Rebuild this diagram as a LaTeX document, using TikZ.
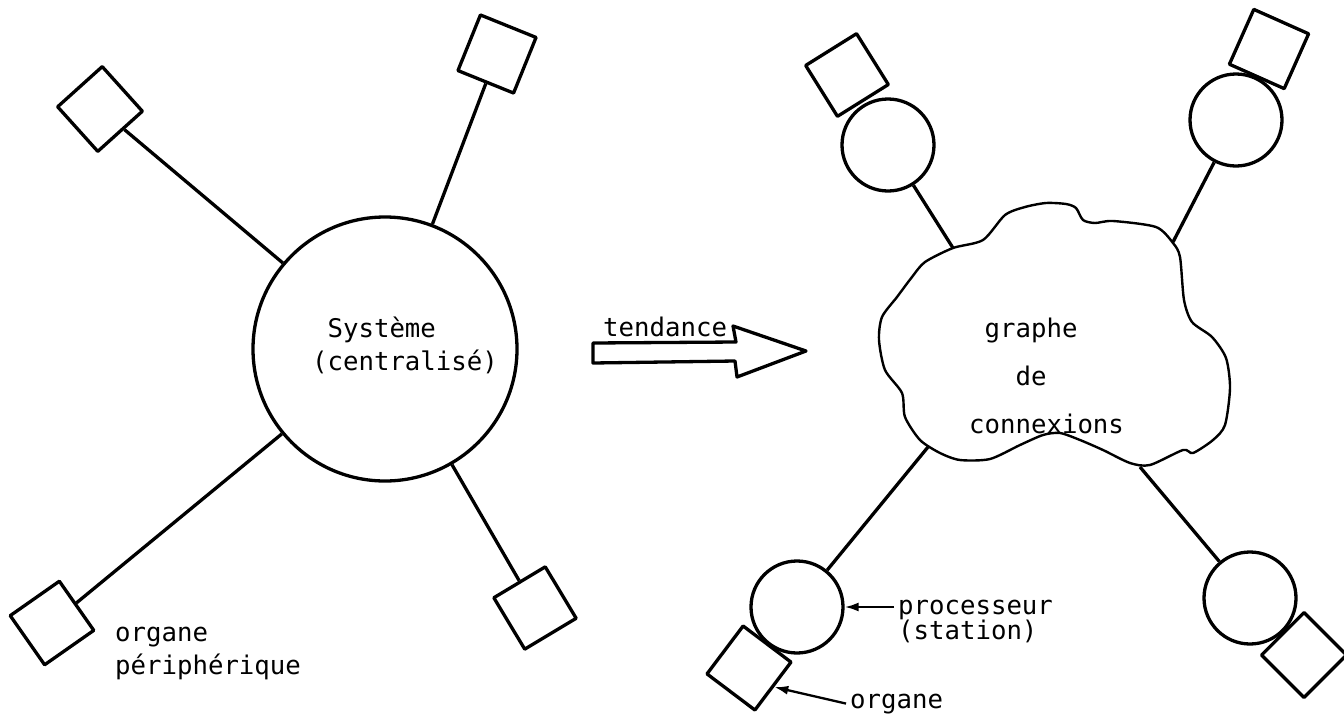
\documentclass[tikz,border=0pt]{standalone}
\usepackage{fontspec}
\newfontfamily\typewr{DejaVu Sans Mono}
\usepackage{tikz}
\usetikzlibrary{arrows.meta,positioning}

\begin{document}
\begin{tikzpicture}[
  x=1pt, y=-1pt,
  txt/.style={font=\typewr\fontsize{25.7}{33}\selectfont, inner sep=0pt, align=left},
  organ/.style={draw, line width=3.3pt, minimum size=60pt, inner sep=0pt, line join=round},
  proc/.style={draw, circle, line width=3.3pt, minimum size=92pt, inner sep=0pt},
  link/.style={line width=3.3pt},
  pointer/.style={-{Latex[length=14pt,width=9pt]}, line width=2.3pt}
]
\useasboundingbox (0,0) rectangle (1344,718);

\node[proc, minimum size=264pt] (sys) at (385,349) {};
\node[txt] (systxt) at ([xshift=20pt,yshift=4pt]sys.center) {\hphantom{(}Système\\(centralisé)};

\node[organ, rotate=42] (oul) at (100,109) {};
\node[organ, rotate=-22] (our) at (497,54) {};
\node[organ, rotate=35] (oll) at (52,623) {};
\node[organ, rotate=31] (olr) at (535,608) {};
\foreach \o in {oul,our,oll,olr} \draw[link] (\o) -- (sys);

\node[txt, anchor=base west] (perlbl) at (115,674) {organe\\périphérique};

\draw[line width=3.3pt, line join=round] (593,343) -- (736,342) -- (733,326) -- (806,351)
  -- (737,377) -- (735,361) -- (593,363) -- cycle;
\node[txt, anchor=base west] (tend) at (603,336) {tendance};

\draw[line width=2.4pt] plot[smooth cycle, tension=0.45] coordinates {
  (953,248) (983,240) (1005,215) (1025,207) (1046,203) (1066,204) (1076,208) (1083,220)
  (1095,223) (1113,221) (1156,227) (1173,243) (1180,257) (1184,300) (1192,322) (1212,337)
  (1226,358) (1230,388) (1225,425) (1213,440) (1193,453) (1183,450) (1150,465) (1130,463)
  (1103,450) (1080,440) (1060,433) (1043,435) (1020,445) (990,459) (960,460) (940,453)
  (920,440) (905,417) (902,393) (885,370) (879,340) (882,317) (897,297) (912,277) (925,262)};
\node[txt, anchor=base west, font=\typewr\fontsize{25.7}{48}\selectfont] (graph) at (969,433)
  {\hphantom{x}graphe\\\hphantom{xxx}de\\connexions};

\coordinate (cnw) at (953,248);
\coordinate (cne) at (1173,242);
\coordinate (csw) at (928,447);
\coordinate (cse) at (1140,467);

\node[proc] (pnw) at (888,145) {};
\node[proc] (pne) at (1236,120) {};
\node[proc] (psw) at (797,607) {};
\node[proc] (pse) at (1250,598) {};
\node[organ, rotate=32] (onw) at (847,75) {};
\node[organ, rotate=-24] (one) at (1269,49) {};
\node[organ, rotate=-37] (osw) at (749,668) {};
\node[organ, rotate=45] (ose) at (1304,655) {};

\draw[link] (pnw) -- (cnw);
\draw[link] (pne) -- (cne);
\draw[link] (psw) -- (csw);
\draw[link] (pse) -- (cse);

\node[txt, anchor=base west, font=\typewr\fontsize{25.7}{25}\selectfont] (proclbl) at (898,639)
  {processeur\\(station)};
\draw[pointer] ([xshift=-4pt]proclbl.west |- psw.east) -- (psw.east);

\node[txt, anchor=base west] (orglbl) at (850,708) {organe};
\draw[pointer] ([xshift=-4pt]orglbl.west) -- (osw.east);
\end{tikzpicture}
\end{document}
